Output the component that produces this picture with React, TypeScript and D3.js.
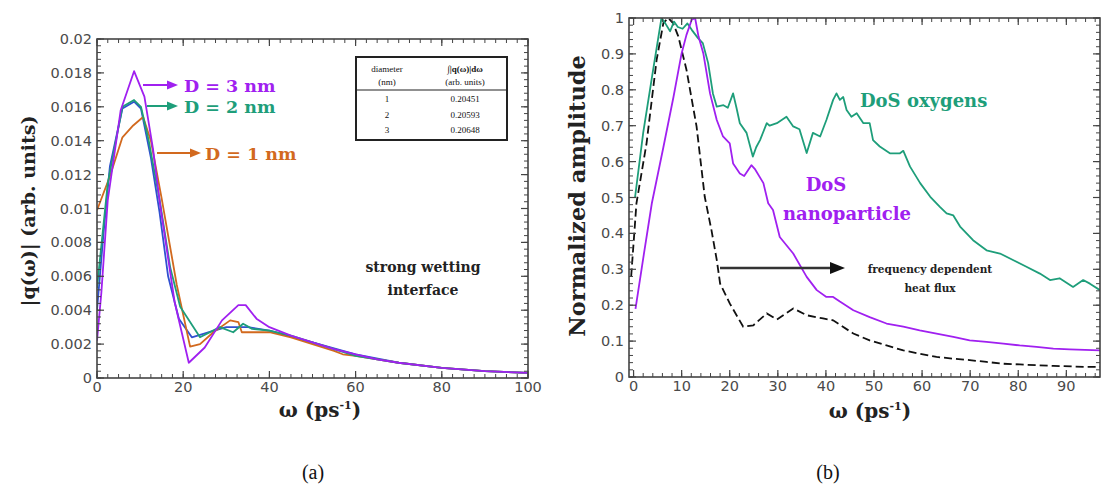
import React from "react";
import * as d3 from "d3";

// ---------- Panel (a) data ----------
const aXTicks = [0, 20, 40, 60, 80, 100];
const aYTicks = [0, 0.002, 0.004, 0.006, 0.008, 0.01, 0.012, 0.014, 0.016, 0.018, 0.02];
const aYTickLabels = ["0", "0.002", "0.004", "0.006", "0.008", "0.01", "0.012", "0.014", "0.016", "0.018", "0.02"];

const d3nmX = [0, 1, 2.5, 5.5, 8.6, 11, 13, 14.6, 18, 21.3, 25, 29, 32.8, 34.5, 37, 40, 45, 50, 55, 60, 65, 70, 80, 90, 100];
const d3nmY = [0.0022, 0.005, 0.0105, 0.0158, 0.0181, 0.0166, 0.0135, 0.0103, 0.0045, 0.0009, 0.0018, 0.0034, 0.0043, 0.0043, 0.0035, 0.003, 0.0025, 0.0021, 0.0017, 0.0014, 0.0011, 0.0009, 0.0006, 0.0004, 0.0003];

const d2nmX = [0, 2.5, 5.9, 8.6, 10.2, 12, 14.6, 17, 19.3, 23.9, 28.5, 31.6, 33.9, 36, 40, 45, 50, 55, 60, 65, 70, 80, 90, 100];
const d2nmY = [0.0053, 0.0115, 0.016, 0.0164, 0.016, 0.014, 0.0104, 0.0065, 0.0042, 0.0024, 0.003, 0.0027, 0.0032, 0.0029, 0.0028, 0.0025, 0.0021, 0.0017, 0.0013, 0.0011, 0.0009, 0.0006, 0.0004, 0.0003];

const d1nmX = [0, 3, 5.9, 8.4, 10.7, 12.5, 15, 18.5, 21.6, 23.9, 27, 30.9, 32.8, 33.6, 40, 45, 50, 55, 57, 60, 65, 70, 80, 90, 100];
const d1nmY = [0.0099, 0.0119, 0.0142, 0.0149, 0.0154, 0.014, 0.0106, 0.0055, 0.00185, 0.002, 0.0027, 0.0034, 0.0033, 0.0027, 0.0027, 0.0024, 0.002, 0.0016, 0.0014, 0.0013, 0.0011, 0.0009, 0.0006, 0.0004, 0.0003];

const blueX = [0, 1.5, 3, 5.9, 8.6, 10.2, 12.5, 14.5, 16.5, 19, 22, 26, 30, 35, 40, 50, 60, 70, 80, 90, 100];
const blueY = [0.004, 0.0085, 0.0125, 0.0159, 0.0163, 0.0159, 0.013, 0.0098, 0.006, 0.0035, 0.0024, 0.0027, 0.003, 0.003, 0.0028, 0.0021, 0.0014, 0.0009, 0.0006, 0.0004, 0.0003];

const tableDiam = ["1", "2", "3"];
const tableInt = ["0.20451", "0.20593", "0.20648"];

// ---------- Panel (b) data ----------
const bXTicks = [0, 10, 20, 30, 40, 50, 60, 70, 80, 90];
const bYTicks = [0, 0.1, 0.2, 0.3, 0.4, 0.5, 0.6, 0.7, 0.8, 0.9, 1];
const bYTickLabels = ["0", "0.1", "0.2", "0.3", "0.4", "0.5", "0.6", "0.7", "0.8", "0.9", "1"];

const oxyX = [0.3, 2, 4, 5.8, 6.6, 7.6, 8.4, 9.2, 10.2, 11.2, 12.1, 13.4, 14.4, 15.5, 16.5, 17.3, 18.7, 19.6, 20.7, 21.4, 22.1, 23.5, 24.8, 25.5, 26.3, 27.7, 28.3, 29.8, 31.8, 33.2, 34.5, 36, 37.3, 38.8, 40.1, 41.5, 42.2, 42.9, 43.6, 44.3, 45.3, 46.4, 47.8, 49.1, 49.8, 51.2, 53.3, 55.4, 56.1, 57.5, 59.6, 61.7, 63.7, 65.1, 66.5, 67.9, 70.6, 73.4, 76.2, 78.9, 81.7, 84.5, 86.6, 88.6, 91.4, 93.5, 94.9, 97];
const oxyY = [0.5, 0.68, 0.85, 1.0, 0.985, 0.963, 0.99, 0.975, 0.97, 0.985, 0.967, 0.944, 0.93, 0.875, 0.79, 0.753, 0.757, 0.75, 0.79, 0.75, 0.707, 0.68, 0.614, 0.64, 0.66, 0.707, 0.7, 0.707, 0.725, 0.698, 0.69, 0.624, 0.68, 0.67, 0.716, 0.772, 0.79, 0.772, 0.78, 0.744, 0.725, 0.735, 0.707, 0.707, 0.66, 0.642, 0.623, 0.623, 0.63, 0.586, 0.54, 0.502, 0.474, 0.456, 0.45, 0.419, 0.381, 0.353, 0.344, 0.326, 0.307, 0.288, 0.27, 0.275, 0.251, 0.27, 0.26, 0.242];

const nanoX = [0.4, 2, 3.8, 6.2, 8.3, 10, 11, 12.1, 12.8, 13.5, 14.5, 15.9, 17.3, 18.6, 20, 20.7, 22.1, 23, 24.5, 25.2, 27, 28, 29, 30.4, 33.2, 36, 38.1, 40.1, 41.5, 42.9, 45.7, 49.1, 52.6, 56.1, 59.5, 63, 66.5, 69.9, 73.4, 76.9, 80.3, 83.8, 87.3, 90.7, 97];
const nanoY = [0.19, 0.33, 0.484, 0.64, 0.78, 0.902, 0.953, 0.995, 1.0, 0.949, 0.902, 0.79, 0.716, 0.67, 0.651, 0.595, 0.567, 0.56, 0.59, 0.58, 0.54, 0.484, 0.465, 0.39, 0.344, 0.279, 0.242, 0.223, 0.223, 0.21, 0.186, 0.167, 0.149, 0.14, 0.13, 0.121, 0.112, 0.102, 0.098, 0.093, 0.088, 0.084, 0.079, 0.077, 0.074];

const fluxX = [-0.5, 0.6, 2.7, 4.8, 6.2, 7.2, 8.2, 9.3, 11, 13.1, 14.8, 16.2, 17.3, 18, 20, 22.8, 24.9, 27.7, 29.8, 33.2, 36, 39.4, 41.5, 45.7, 49.1, 52.6, 56.1, 59.5, 63, 66.5, 69.9, 73.4, 76.9, 80.3, 87.3, 94.2, 97];
const fluxY = [0.28, 0.484, 0.651, 0.884, 0.986, 1.0, 0.986, 0.949, 0.856, 0.698, 0.502, 0.409, 0.326, 0.26, 0.205, 0.14, 0.144, 0.177, 0.16, 0.191, 0.172, 0.163, 0.158, 0.121, 0.102, 0.088, 0.074, 0.065, 0.056, 0.051, 0.047, 0.042, 0.037, 0.035, 0.031, 0.028, 0.028];

const PURPLE = "#a020f0";
const GREEN = "#1e9e7a";
const ORANGE = "#d2691e";
const BLUE = "#3050d0";
const AXIS = "#444";
const TICKTXT = "#4a4a4a";
const BOLD = "'DejaVu Serif', serif";
const SANS = "'DejaVu Sans', sans-serif";

function pairs(xs: number[], ys: number[]): [number, number][] {
  return xs.map((x, i) => [x, ys[i]] as [number, number]);
}

function Frame({ x, y, xTicks, xMinorStep, yTicks, yMinorStep, yLabels, xLabels }: any) {
  const [x0, x1] = x.range();
  const [y0, y1] = y.range();
  const xd = x.domain();
  const yd = y.domain();
  const xMinor = d3.range(Math.ceil(xd[0] / xMinorStep) * xMinorStep, xd[1] + 1e-9, xMinorStep);
  const yMinor = d3.range(Math.ceil(yd[0] / yMinorStep - 1e-6) * yMinorStep, yd[1] + 1e-9, yMinorStep);
  const M = 7, m = 4;
  return (
    <g>
      {xMinor.map((v: number, i: number) => (
        <g key={"xm" + i} stroke={AXIS} strokeWidth={1}>
          <line x1={x(v)} x2={x(v)} y1={y0} y2={y0 - m} />
          <line x1={x(v)} x2={x(v)} y1={y1} y2={y1 + m} />
        </g>
      ))}
      {xTicks.map((v: number, i: number) => (
        <g key={"xM" + i} stroke={AXIS} strokeWidth={1.2}>
          <line x1={x(v)} x2={x(v)} y1={y0} y2={y0 - M} />
          <line x1={x(v)} x2={x(v)} y1={y1} y2={y1 + M} />
        </g>
      ))}
      {yMinor.map((v: number, i: number) => (
        <g key={"ym" + i} stroke={AXIS} strokeWidth={1}>
          <line x1={x0} x2={x0 + m} y1={y(v)} y2={y(v)} />
          <line x1={x1} x2={x1 - m} y1={y(v)} y2={y(v)} />
        </g>
      ))}
      {yTicks.map((v: number, i: number) => (
        <g key={"yM" + i} stroke={AXIS} strokeWidth={1.2}>
          <line x1={x0} x2={x0 + M} y1={y(v)} y2={y(v)} />
          <line x1={x1} x2={x1 - M} y1={y(v)} y2={y(v)} />
        </g>
      ))}
      <rect x={x0} y={y1} width={x1 - x0} height={y0 - y1} fill="none" stroke={AXIS} strokeWidth={1.6} />
      {yTicks.map((v: number, i: number) => (
        <text key={"yl" + i} x={x0 - 5} y={y(v)} dy="0.35em" textAnchor="end" fontFamily={SANS} fontSize={14.5} fill={TICKTXT}>
          {yLabels[i]}
        </text>
      ))}
      {xTicks.map((v: number, i: number) => (
        <text key={"xl" + i} x={x(v)} y={y0 + 14} textAnchor="middle" fontFamily={SANS} fontSize={14.5} fill={TICKTXT}>
          {xLabels[i]}
        </text>
      ))}
    </g>
  );
}

function Arrow({ x1, x2, y, color, width = 2 }: any) {
  return (
    <g>
      <line x1={x1} x2={x2 - 8} y1={y} y2={y} stroke={color} strokeWidth={width} />
      <path d={`M${x2},${y} L${x2 - 11},${y - 4.5} L${x2 - 11},${y + 4.5} Z`} fill={color} />
    </g>
  );
}

export default function App() {
  const ax = d3.scaleLinear().domain([0, 100]).range([97, 528]);
  const ay = d3.scaleLinear().domain([0, 0.02]).range([378, 39]);
  const aLine = d3.line<[number, number]>().x((d) => ax(d[0])).y((d) => ay(d[1]));

  const bx = d3.scaleLinear().domain([-0.95, 97]).range([629, 1100]);
  const by = d3.scaleLinear().domain([0, 1]).range([377, 18]);
  const bLine = d3.line<[number, number]>().x((d) => bx(d[0])).y((d) => by(d[1]));

  const aSeries = [
    { xs: blueX, ys: blueY, c: BLUE },
    { xs: d1nmX, ys: d1nmY, c: ORANGE },
    { xs: d2nmX, ys: d2nmY, c: GREEN },
    { xs: d3nmX, ys: d3nmY, c: PURPLE },
  ];

  const tL = 356, tR = 507, tT = 57, tB = 140, tH = 90;
  const TF = "'Liberation Serif', serif";

  return (
    <div style={{ position: "fixed", left: 0, top: 0, width: 1104, height: 493, background: "#fff" }}>
      <svg width={1104} height={493} style={{ display: "block" }}>
        <defs>
          <clipPath id="clipA">
            <rect x={97} y={39} width={431} height={339} />
          </clipPath>
          <clipPath id="clipB">
            <rect x={629} y={18} width={471} height={359} />
          </clipPath>
        </defs>

        {/* ---------- Panel (a) ---------- */}
        <g clipPath="url(#clipA)">
          {aSeries.map((s, i) => (
            <path key={i} d={aLine(pairs(s.xs, s.ys)) || ""} fill="none" stroke={s.c} strokeWidth={1.8} strokeLinejoin="round" />
          ))}
        </g>
        <Frame x={ax} y={ay} xTicks={aXTicks} xMinorStep={2.5} yTicks={aYTicks} yMinorStep={0.0004}
          yLabels={aYTickLabels} xLabels={aXTicks.map(String)} />

        <Arrow x1={143} x2={178} y={85} color={PURPLE} />
        <text x={184} y={92} fontFamily={BOLD} fontWeight="bold" fontSize={17.5} fill={PURPLE}>D = 3 nm</text>
        <Arrow x1={147} x2={178} y={106} color={GREEN} />
        <text x={184} y={113} fontFamily={BOLD} fontWeight="bold" fontSize={17.5} fill={GREEN}>D = 2 nm</text>
        <Arrow x1={157} x2={201} y={153} color={ORANGE} />
        <text x={205} y={160} fontFamily={BOLD} fontWeight="bold" fontSize={17.5} fill={ORANGE}>D = 1 nm</text>

        {/* table */}
        <rect x={tL} y={tT} width={tR - tL} height={tB - tT} fill="#fff" stroke="#222" strokeWidth={2} />
        <line x1={tL} x2={tR} y1={tH} y2={tH} stroke="#222" strokeWidth={1.2} />
        <text x={387} y={72} textAnchor="middle" fontFamily={TF} fontSize={9} fill="#111">diameter</text>
        <text x={387} y={85} textAnchor="middle" fontFamily={TF} fontSize={9} fill="#111">(nm)</text>
        <text x={465} y={72} textAnchor="middle" fontFamily={TF} fontSize={9} fill="#111" fontWeight="bold">∫|q(ω)|dω</text>
        <text x={465} y={85} textAnchor="middle" fontFamily={TF} fontSize={9} fill="#111">(arb. units)</text>
        {tableDiam.map((d, i) => (
          <g key={i}>
            <text x={387} y={102 + i * 15.5} textAnchor="middle" fontFamily={TF} fontSize={9} fill="#111">{d}</text>
            <text x={465} y={102 + i * 15.5} textAnchor="middle" fontFamily={TF} fontSize={9} fill="#111">{tableInt[i]}</text>
          </g>
        ))}

        <text x={423} y={272} textAnchor="middle" fontFamily={BOLD} fontWeight="bold" fontSize={14} fill="#222">strong wetting</text>
        <text x={423} y={295} textAnchor="middle" fontFamily={BOLD} fontWeight="bold" fontSize={14} fill="#222">interface</text>

        <text transform="translate(35,211) rotate(-90)" textAnchor="middle" fontFamily={BOLD} fontWeight="bold" fontSize={19} fill="#222">
          |q(ω)| (arb. units)
        </text>
        <text x={320} y={417} textAnchor="middle" fontFamily={BOLD} fontWeight="bold" fontSize={20} fill="#222">
          ω (ps<tspan dy={-8} fontSize={11}>-1</tspan><tspan dy={8}>)</tspan>
        </text>
        <text x={313} y={479} textAnchor="middle" fontFamily={TF} fontSize={20} fill="#111">(a)</text>

        {/* ---------- Panel (b) ---------- */}
        <g clipPath="url(#clipB)">
          <path d={bLine(pairs(fluxX, fluxY)) || ""} fill="none" stroke="#111" strokeWidth={1.8} strokeDasharray="8,4" />
          <path d={bLine(pairs(oxyX, oxyY)) || ""} fill="none" stroke={GREEN} strokeWidth={1.8} strokeLinejoin="round" />
          <path d={bLine(pairs(nanoX, nanoY)) || ""} fill="none" stroke={PURPLE} strokeWidth={1.8} strokeLinejoin="round" />
        </g>
        <Frame x={bx} y={by} xTicks={bXTicks} xMinorStep={2} yTicks={bYTicks} yMinorStep={0.02}
          yLabels={bYTickLabels} xLabels={bXTicks.map(String)} />

        <line x1={720} x2={832} y1={268} y2={268} stroke="#333" strokeWidth={2.5} />
        <path d="M845,268 L830,262 L830,274 Z" fill="#111" />
        <text x={930} y={273} textAnchor="middle" fontFamily={BOLD} fontWeight="bold" fontSize={10.5} fill="#222">frequency dependent</text>
        <text x={930} y={292} textAnchor="middle" fontFamily={BOLD} fontWeight="bold" fontSize={10.5} fill="#222">heat flux</text>

        <text x={860} y={107} fontFamily={BOLD} fontWeight="bold" fontSize={18} fill={GREEN}>DoS oxygens</text>
        <text x={826} y={191} textAnchor="middle" fontFamily={BOLD} fontWeight="bold" fontSize={18} fill={PURPLE}>DoS</text>
        <text x={847} y={220} textAnchor="middle" fontFamily={BOLD} fontWeight="bold" fontSize={18} fill={PURPLE}>nanoparticle</text>

        <text transform="translate(585,196) rotate(-90)" textAnchor="middle" fontFamily={BOLD} fontWeight="bold" fontSize={22.5} fill="#222">
          Normalized amplitude
        </text>
        <text x={870} y={418} textAnchor="middle" fontFamily={BOLD} fontWeight="bold" fontSize={20} fill="#222">
          ω (ps<tspan dy={-8} fontSize={11}>-1</tspan><tspan dy={8}>)</tspan>
        </text>
        <text x={828} y={479} textAnchor="middle" fontFamily={TF} fontSize={20} fill="#111">(b)</text>
      </svg>
    </div>
  );
}
